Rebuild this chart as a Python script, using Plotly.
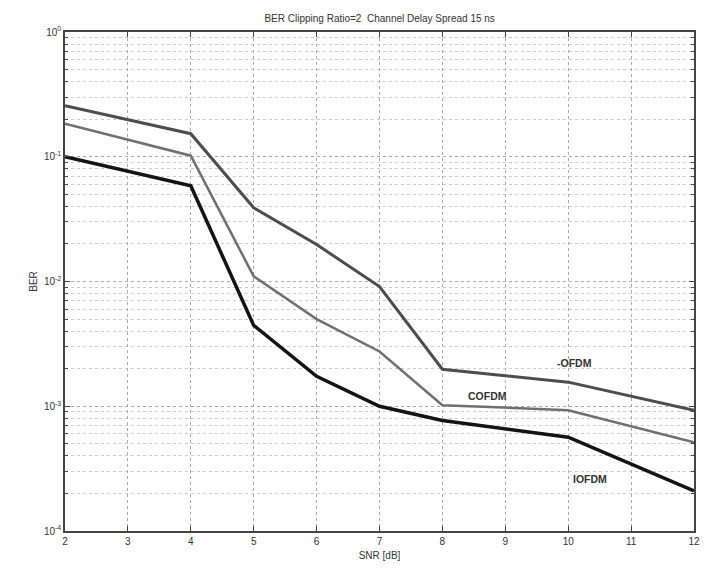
import math
import plotly.graph_objects as go

snr = [2, 4, 5, 6, 7, 8, 10, 12]
ber_ofdm = [0.256, 0.153, 0.039, 0.0198, 0.0091, 0.00198, 0.00156, 0.00093]
ber_cofdm = [0.184, 0.102, 0.011, 0.005, 0.00275, 0.00102, 0.00093, 0.000515]
ber_iofdm = [0.1, 0.0586, 0.00445, 0.00174, 0.001, 0.00077, 0.000565, 0.00021]

series_names = ["-OFDM", "COFDM", "IOFDM"]
label_x = [10.1, 8.72, 10.35]
label_y = [0.00221, 0.0012, 0.00026]
xticks = list(range(2, 13))
yticks = [1, 0.1, 0.01, 0.001, 0.0001]
yticktext = ["10<sup>0</sup>", "10<sup>-1</sup>", "10<sup>-2</sup>", "10<sup>-3</sup>", "10<sup>-4</sup>"]
minor_y = [m * 10 ** e for e in range(-4, 0) for m in range(2, 10)]

FONT = "Liberation Sans, Arial, sans-serif"

fig = go.Figure()
styles = [("#4d4d4d", 3), ("#707070", 2.5), ("#141414", 3.5)]
for name, ys, (c, w) in zip(series_names, [ber_ofdm, ber_cofdm, ber_iofdm], styles):
    fig.add_trace(go.Scatter(x=snr, y=ys, mode="lines", name=name,
                             line=dict(color=c, width=w), showlegend=False))

for name, lx, ly in zip(series_names, label_x, label_y):
    fig.add_annotation(x=lx, y=math.log10(ly), xref="x", yref="y", text="<b>%s</b>" % name,
                       showarrow=False, font=dict(size=10.5, color="#333", family=FONT),
                       xanchor="center", yanchor="middle")

fig.update_layout(
    width=707, height=570,
    margin=dict(l=65, r=7, t=32, b=39),
    paper_bgcolor="white", plot_bgcolor="white",
    font=dict(family=FONT, size=10, color="#333"),
    title=dict(text="BER Clipping Ratio=2  Channel Delay Spread 15 ns",
               x=0.537, xanchor="center", y=0.968, yanchor="middle",
               font=dict(size=10, color="#333", family=FONT)),
)
fig.update_xaxes(
    range=[2, 12], tickvals=xticks, ticks="inside", ticklen=5, tickcolor="#444",
    showline=True, linecolor="#444", linewidth=1.5, mirror="ticks",
    showgrid=True, gridcolor="#aaa", griddash="dot", gridwidth=1,
    zeroline=False, title=dict(text="SNR [dB]", standoff=6, font=dict(size=10)),
    tickfont=dict(size=10),
)
fig.update_yaxes(
    type="log", range=[-4, 0], tickvals=yticks, ticktext=yticktext,
    ticks="inside", ticklen=5, tickcolor="#444",
    showline=True, linecolor="#444", linewidth=1.5, mirror="ticks",
    showgrid=True, gridcolor="#aaa", griddash="dot", gridwidth=1,
    minor=dict(tickvals=minor_y, ticks="inside", ticklen=3, tickcolor="#444",
               showgrid=True, gridcolor="#ccc", griddash="dot", gridwidth=1),
    zeroline=False, title=dict(text="BER", standoff=4, font=dict(size=10)),
    tickfont=dict(size=10),
)

fig.write_html("out.html")
